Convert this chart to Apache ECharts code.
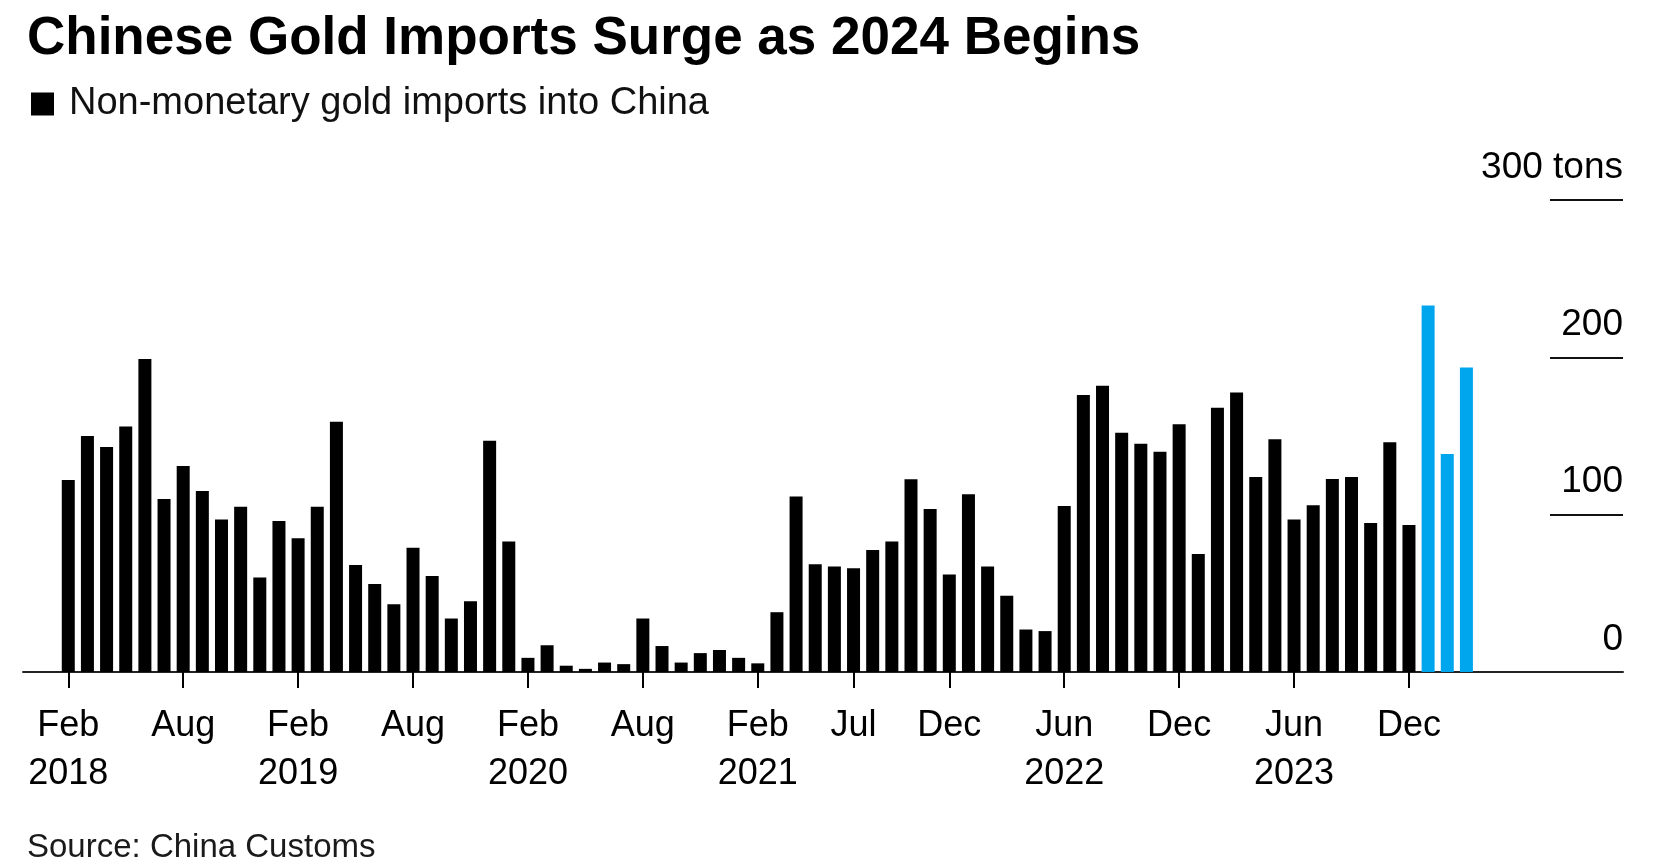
<!DOCTYPE html>
<html>
<head>
<meta charset="utf-8">
<script src="https://cdn.jsdelivr.net/npm/echarts@6/dist/echarts.min.js"></script>
<style>
  html, body { margin: 0; padding: 0; background: #fff; }
  #chart { width: 1668px; height: 868px; }
</style>
</head>
<body>
<div id="chart"></div>
<script>
// ---- Data ----
const months = [
  '2018-02','2018-03','2018-04','2018-05','2018-06','2018-07','2018-08','2018-09','2018-10','2018-11','2018-12',
  '2019-01','2019-02','2019-03','2019-04','2019-05','2019-06','2019-07','2019-08','2019-09','2019-10','2019-11','2019-12',
  '2020-01','2020-02','2020-03','2020-04','2020-05','2020-06','2020-07','2020-08','2020-09','2020-10','2020-11','2020-12',
  '2021-01','2021-02','2021-03','2021-04','2021-05','2021-06','2021-07','2021-08','2021-09','2021-10','2021-11','2021-12',
  '2022-01','2022-02','2022-03','2022-04','2022-05','2022-06','2022-07','2022-08','2022-09','2022-10','2022-11','2022-12',
  '2023-01','2023-02','2023-03','2023-04','2023-05','2023-06','2023-07','2023-08','2023-09','2023-10','2023-11','2023-12',
  '2024-01','2024-02','2024-03'
];
// Non-monetary gold imports into China, tons (black bars)
const importsHistory = [
  122, 150, 143, 156, 199, 110, 131, 115, 97, 105, 60,
  96, 85, 105, 159, 68, 56, 43, 79, 61, 34, 45, 147,
  83, 9, 17, 4, 2, 6, 5, 34, 16.5, 6, 12, 14,
  9, 5.5, 38, 111.5, 68.5, 67, 66, 77.6, 83, 122.5, 103.6, 62,
  113, 67, 48.5, 27, 26, 105.5, 176, 182, 152, 145, 140, 157.5,
  75, 168, 177.6, 124, 148, 97, 106, 122.7, 124, 94.7, 146, 93.5
];
// 2024 months (highlighted blue bars)
const imports2024 = [233, 138.6, 193.5];

const xTickLabels = {
  '2018-02': 'Feb\n2018', '2018-08': 'Aug',
  '2019-02': 'Feb\n2019', '2019-08': 'Aug',
  '2020-02': 'Feb\n2020', '2020-08': 'Aug',
  '2021-02': 'Feb\n2021', '2021-07': 'Jul', '2021-12': 'Dec',
  '2022-06': 'Jun\n2022', '2022-12': 'Dec',
  '2023-06': 'Jun\n2023', '2023-12': 'Dec'
};
const yTicks = [0, 100, 200, 300];
const yUnit = 'tons';

const titleText = 'Chinese Gold Imports Surge as 2024 Begins';
const legendText = 'Non-monetary gold imports into China';
const sourceText = 'Source: China Customs';

// ---- Chart ----
const FONT = "'Liberation Sans', Arial, Helvetica, sans-serif";
const BLACK = '#000000';
const BLUE = '#00a6ed';

const values = importsHistory.concat(imports2024);
const yMin = yTicks[0], yMax = yTicks[yTicks.length - 1], yInt = yTicks[1] - yTicks[0];

const chart = echarts.init(document.getElementById('chart'), null, { renderer: 'canvas' });
chart.setOption({
  animation: false,
  backgroundColor: '#ffffff',
  textStyle: { fontFamily: FONT },
  title: [
    {
      text: titleText, left: 22, top: 8,
      textStyle: { fontFamily: FONT, fontSize: 53, fontWeight: 'bold', color: '#000' }
    },
    {
      text: sourceText, left: 22, top: 826,
      textStyle: { fontFamily: FONT, fontSize: 33, fontWeight: 'normal', color: '#1a1a1a' }
    }
  ],
  legend: {
    left: 26, top: 80,
    icon: 'rect', itemWidth: 23, itemHeight: 23,
    selectedMode: false,
    data: [{ name: legendText, itemStyle: { color: BLACK } }],
    textStyle: { fontFamily: FONT, fontSize: 38, color: '#111', padding: [0, 0, 0, 10] }
  },
  grid: [
    { left: 58.7, right: 192, top: 200, bottom: 196 },
    { left: 23, right: 45, top: 200, bottom: 196 },
    { left: 1550, right: 45, top: 200, bottom: 196 }
  ],
  xAxis: [
    {
      type: 'category', gridIndex: 0, data: months, boundaryGap: true,
      axisLine: { show: false },
      axisTick: {
        show: true, alignWithLabel: true, length: 16,
        interval: (i, v) => xTickLabels[v] !== undefined,
        lineStyle: { color: BLACK, width: 2 }
      },
      axisLabel: {
        interval: (i, v) => xTickLabels[v] !== undefined,
        formatter: v => xTickLabels[v] || '',
        fontFamily: FONT, fontSize: 36, lineHeight: 48, color: '#000', margin: 30
      },
      splitLine: { show: false }
    },
    {
      type: 'value', gridIndex: 1, min: 0, max: 1,
      axisLine: { show: true, onZero: false, lineStyle: { color: '#222', width: 2 } },
      axisTick: { show: false }, axisLabel: { show: false }, splitLine: { show: false }
    },
    {
      type: 'value', gridIndex: 2, min: 0, max: 1, show: false
    }
  ],
  yAxis: [
    {
      type: 'value', gridIndex: 0, min: yMin, max: yMax, interval: yInt,
      show: false
    },
    {
      type: 'value', gridIndex: 1, min: yMin, max: yMax, interval: yInt,
      position: 'right',
      axisLine: { show: false }, axisTick: { show: false },
      axisLabel: {
        inside: true, margin: 0, verticalAlign: 'bottom', padding: [0, 0, 14, 0],
        fontFamily: FONT, fontSize: 37, color: '#000',
        formatter: v => (v === yMax ? v + ' ' + yUnit : String(v))
      },
      splitLine: { show: false }
    },
    {
      type: 'value', gridIndex: 2, min: yMin, max: yMax, interval: yInt,
      axisLine: { show: false }, axisTick: { show: false }, axisLabel: { show: false },
      splitLine: { show: true, lineStyle: { color: '#111', width: 2 } }
    }
  ],
  series: [
    {
      name: legendText, type: 'bar', xAxisIndex: 0, yAxisIndex: 0,
      barWidth: 13,
      data: values.map((v, i) => ({
        value: v,
        itemStyle: { color: i >= importsHistory.length ? BLUE : BLACK }
      }))
    }
  ]
});
</script>
</body>
</html>
